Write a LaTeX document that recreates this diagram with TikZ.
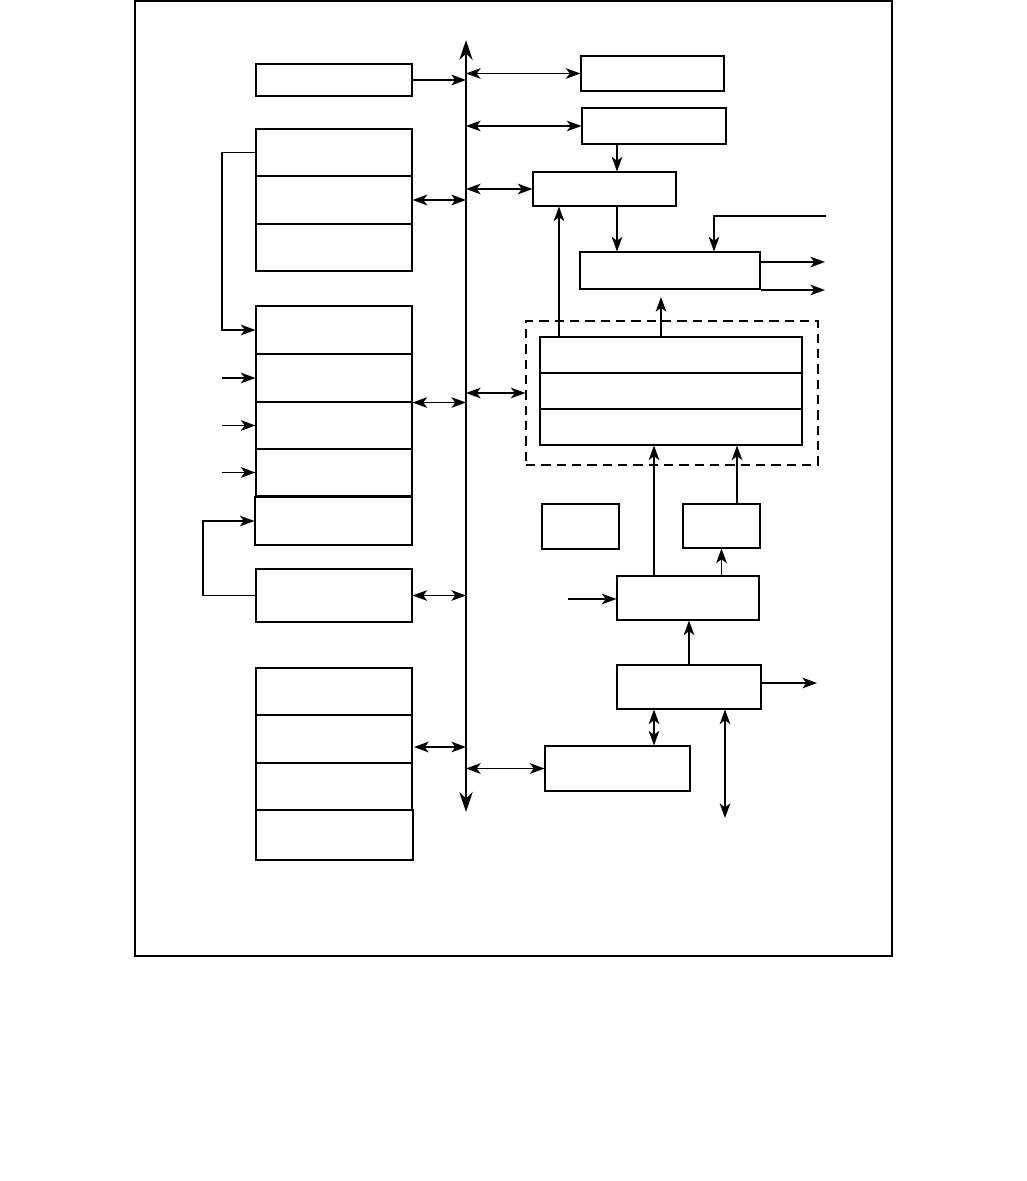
\documentclass[tikz,border=0pt]{standalone}
\usetikzlibrary{arrows.meta,fit}
\tikzset{
  blk/.style={draw,line width=0.8pt,inner sep=0pt},
  >={Stealth[length=11pt,width=8pt,inset=3pt]},
}

\begin{document}
\begin{tikzpicture}[x=0.75pt,y=-0.75pt,line width=0.8pt]
\useasboundingbox (0,0) rectangle (1026,1181);
\draw (135,1) rectangle (892,956);
% system bus
\coordinate (bus) at (466,0);
\coordinate (bustop) at (466,40);
\coordinate (busbot) at (466,812);
\draw[line width=2.2pt,{Stealth[length=15pt,width=10pt]}-{Stealth[length=15pt,width=10pt]}] (busbot) -- (bustop);
% left column
\node[blk,fit={(256,64) (412,96)}] (t1) {};
\node[blk,fit={(256,129) (412,176)}] (a1) {};
\node[blk,fit={(256,176) (412,224)}] (a2) {};
\node[blk,fit={(256,224) (412,271)}] (a3) {};
\node[blk,fit={(256,306) (412,354)}] (b1) {};
\node[blk,fit={(256,354) (412,402)}] (b2) {};
\node[blk,fit={(256,402) (412,449)}] (b3) {};
\node[blk,fit={(256,449) (412,496)}] (b4) {};
\node[blk,fit={(255,497) (412,545)}] (b5) {};
\node[blk,fit={(256,569) (412,622)}] (e1) {};
\node[blk,fit={(256,668) (412,715)}] (c1) {};
\node[blk,fit={(256,715) (412,763)}] (c2) {};
\node[blk,fit={(256,763) (412,810)}] (c3) {};
\node[blk,fit={(256,810) (413,860)}] (c4) {};
\coordinate (f1) at (222,0);
\coordinate (f2) at (203,0);
\coordinate (c2bus) at (414,747);
\draw[->] (t1.east) -- (t1.east -| bus);
\draw[<->] (a2.east) -- (a2.east -| bus);
\draw[<->] (b2.south east) -- (b2.south east -| bus);
\draw[<->] (e1.east) -- (e1.east -| bus);
\draw[<->] (c2bus) -- (c2bus -| bus);
\draw[->] (a1.west) -- (a1.west -| f1) |- (b1.west);
\foreach \n in {2,3,4}
  \draw[->] (b\n.west -| f1) -- (b\n.west);
\draw[->] (e1.west) -- (e1.west -| f2) |- (b5.west);
% right column
\node[blk,fit={(581,56) (724,91)}] (r1) {};
\node[blk,fit={(582,108) (726,144)}] (r2) {};
\node[blk,fit={(533,172) (676,206)}] (r3) {};
\node[blk,fit={(580,252) (760,289)}] (r4) {};
\node[draw,dashed,dash pattern=on 7pt off 4.5pt,inner sep=0pt,fit={(526,321) (818,465)}] (grp) {};
\node[blk,fit={(540,337) (802,373)}] (d1) {};
\node[blk,fit={(540,373) (802,409)}] (d2) {};
\node[blk,fit={(540,409) (802,445)}] (d3) {};
\node[blk,fit={(542,504) (619,549)}] (s1) {};
\node[blk,fit={(683,504) (760,548)}] (s2) {};
\node[blk,fit={(617,576) (759,620)}] (r5) {};
\node[blk,fit={(617,665) (761,709)}] (r6) {};
\node[blk,fit={(545,746) (690,791)}] (r7) {};
\coordinate (k1) at (617,0);
\coordinate (k3) at (714,0);
\coordinate (k4) at (559,0);
\coordinate (k5) at (654,0);
\coordinate (k6) at (737,0);
\coordinate (in4) at (826,216);
\coordinate (o4a) at (825,262);
\coordinate (o4b) at (825,290);
\coordinate (u1) at (661,297);
\coordinate (in5) at (568,599);
\coordinate (o6) at (817,683);
\coordinate (d6) at (725,818);
\draw[<->] (r1.west -| bus) -- (r1.west);
\draw[<->] (r2.west -| bus) -- (r2.west);
\draw[<->] (r3.west -| bus) -- (r3.west);
\draw[<->] (grp.west -| bus) -- (grp.west);
\draw[<->] (r7.west -| bus) -- (r7.west);
\draw[->] (r2.south -| k1) -- (r3.north -| k1);
\draw[->] (r3.south -| k1) -- (r4.north -| k1);
\draw[->] (in4) -| (r4.north -| k3);
\draw[->] (o4a -| r4.east) -- (o4a);
\draw[->] (o4b -| r4.east) -- (o4b);
\draw[->] (d1.north -| k4) -- (r3.south -| k4);
\draw[->] (d1.north -| u1) -- (u1);
\draw[->] (r5.north -| k5) -- (d3.south -| k5);
\draw[->] (s2.north -| k6) -- (d3.south -| k6);
\draw[->] (r5.north -| s2.south) -- (s2.south);
\draw[->] (in5) -- (in5 -| r5.west);
\draw[->] (r6.north) -- (r6.north |- r5.south);
\draw[->] (o6 -| r6.east) -- (o6);
\draw[<->] (r6.south -| k5) -- (r7.north -| k5);
\draw[<->] (r6.south -| d6) -- (d6);
\end{tikzpicture}
\end{document}
